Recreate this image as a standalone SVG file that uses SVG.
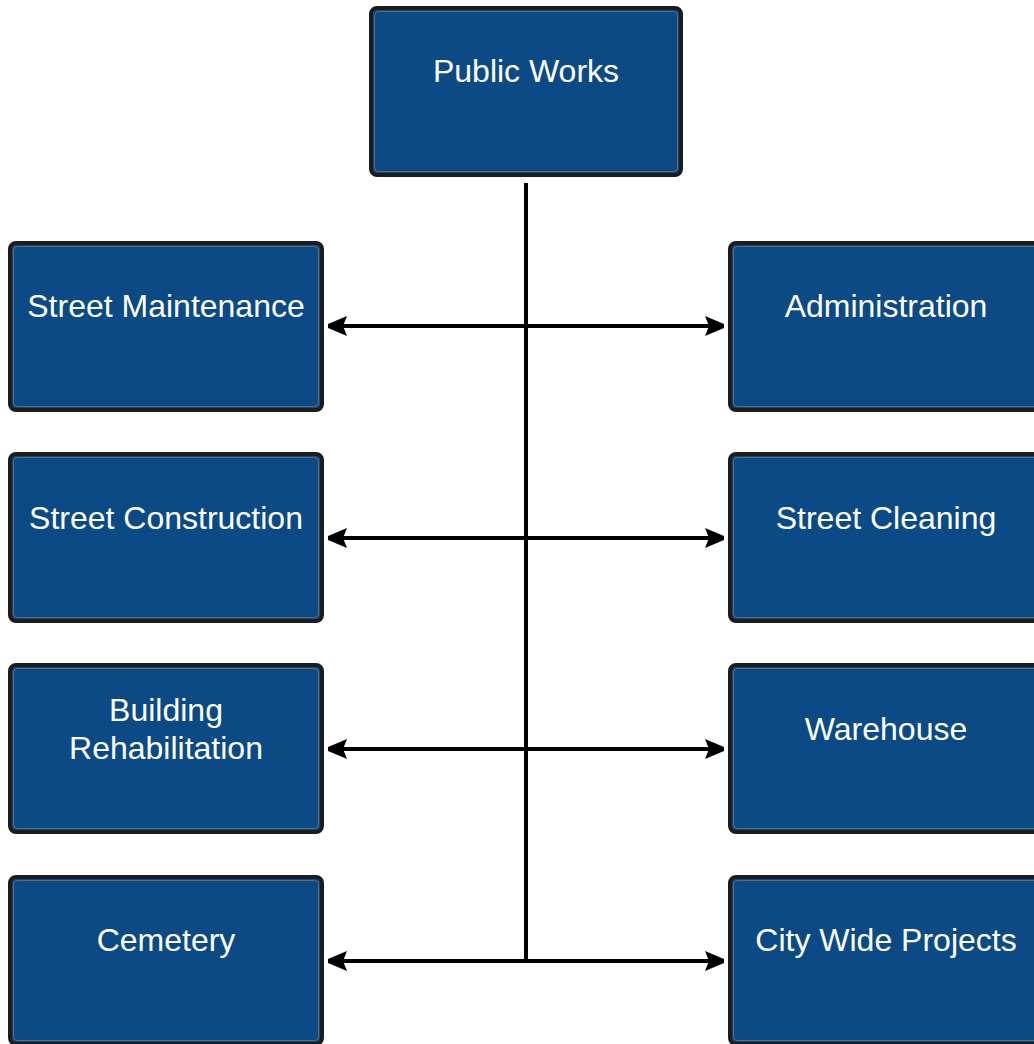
<svg xmlns="http://www.w3.org/2000/svg" width="1034" height="1044" viewBox="0 0 1034 1044">
<style>
.box{fill:#0c4a86;stroke:#1c1c1c;stroke-width:4}
.inner{fill:none;stroke:#6a6a6a;stroke-width:1}
.lbl{font-family:"Liberation Sans",Arial,sans-serif;font-size:32px;fill:#ffffff;text-anchor:middle}
.conn{stroke:#000;stroke-width:4;fill:none}
</style>
<defs>
<marker id="ah" markerUnits="userSpaceOnUse" markerWidth="22" markerHeight="22" viewBox="0 0 22 22" refX="20" refY="11" orient="auto-start-reverse">
<path d="M1,1 L20,9 L20,13 L1,21 L5,11 Z" fill="#000"/>
</marker>
</defs>
<g id="connectors">
<line class="conn" x1="528" y1="183" x2="528" y2="963" transform="translate(-2,0)"/>
<line class="conn" x1="328" y1="326" x2="724" y2="326" marker-start="url(#ah)" marker-end="url(#ah)"/>
<line class="conn" x1="328" y1="538" x2="724" y2="538" marker-start="url(#ah)" marker-end="url(#ah)"/>
<line class="conn" x1="328" y1="749" x2="724" y2="749" marker-start="url(#ah)" marker-end="url(#ah)"/>
<line class="conn" x1="328" y1="961" x2="724" y2="961" marker-start="url(#ah)" marker-end="url(#ah)"/>
</g>
<g id="public-works">
<rect class="box" x="371" y="8" width="310" height="167" rx="6"/>
<rect class="inner" x="374.5" y="11.5" width="303" height="160" rx="4"/>
<text class="lbl" x="526" y="82">Public Works</text>
</g>
<g id="street-maintenance">
<rect class="box" x="10" y="243" width="312" height="167" rx="6"/>
<rect class="inner" x="13.5" y="246.5" width="305" height="160" rx="4"/>
<text class="lbl" x="166" y="317">Street Maintenance</text>
</g>
<g id="administration">
<rect class="box" x="730" y="243" width="312" height="167" rx="6"/>
<rect class="inner" x="733.5" y="246.5" width="305" height="160" rx="4"/>
<text class="lbl" x="886" y="317">Administration</text>
</g>
<g id="street-construction">
<rect class="box" x="10" y="454" width="312" height="167" rx="6"/>
<rect class="inner" x="13.5" y="457.5" width="305" height="160" rx="4"/>
<text class="lbl" x="166" y="529">Street Construction</text>
</g>
<g id="street-cleaning">
<rect class="box" x="730" y="454" width="312" height="167" rx="6"/>
<rect class="inner" x="733.5" y="457.5" width="305" height="160" rx="4"/>
<text class="lbl" x="886" y="529">Street Cleaning</text>
</g>
<g id="building-rehabilitation">
<rect class="box" x="10" y="665" width="312" height="167" rx="6"/>
<rect class="inner" x="13.5" y="668.5" width="305" height="160" rx="4"/>
<text class="lbl" x="166" y="721">Building</text>
<text class="lbl" x="166" y="759">Rehabilitation</text>
</g>
<g id="warehouse">
<rect class="box" x="730" y="665" width="312" height="167" rx="6"/>
<rect class="inner" x="733.5" y="668.5" width="305" height="160" rx="4"/>
<text class="lbl" x="886" y="740">Warehouse</text>
</g>
<g id="cemetery">
<rect class="box" x="10" y="877" width="312" height="167" rx="6"/>
<rect class="inner" x="13.5" y="880.5" width="305" height="160" rx="4"/>
<text class="lbl" x="166" y="951">Cemetery</text>
</g>
<g id="city-wide-projects">
<rect class="box" x="730" y="877" width="312" height="167" rx="6"/>
<rect class="inner" x="733.5" y="880.5" width="305" height="160" rx="4"/>
<text class="lbl" x="886" y="951">City Wide Projects</text>
</g>
</svg>
